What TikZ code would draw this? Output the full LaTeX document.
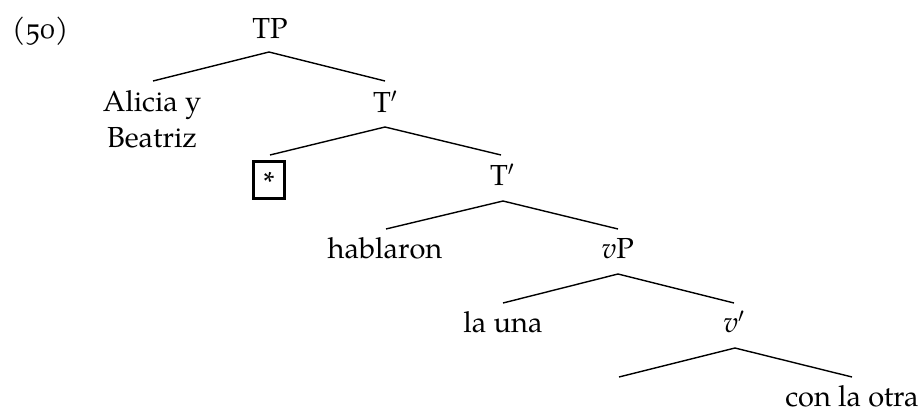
\documentclass[tikz,border=0pt]{standalone}
\usepackage{fontspec}
\setmainfont{TeX Gyre Pagella}[Numbers=OldStyle]
\tikzset{
  lbl/.style={anchor=base, inner sep=0pt, font=\fontsize{29}{35}\selectfont},
  br/.style={line width=1.4pt},
  starbox/.style={draw, line width=2.6pt, minimum width=31pt, minimum height=37pt, inner sep=0pt, font=\fontsize{29}{35}\selectfont}
}
\begin{document}
\begin{tikzpicture}[x=1pt,y=-1pt]
\useasboundingbox (0,0) rectangle (919,407);
\node[lbl, anchor=base west] (ex) at (12,38) {(50)};
\node[lbl] (tp) at (270,38) {TP};
\node[lbl] (al) at (152,111) {Alicia y};
\node[lbl] (be) at (152,147) {Beatriz};
\node[lbl] (t1) at (385,112) {T$'$};
\node[starbox] (st) at (269,180) {};
\node[inner sep=0pt, font=\fontsize{29}{35}\selectfont] (ast) at (269,182) {*};
\node[lbl] (t2) at (502,185) {T$'$};
\node[lbl] (hab) at (385,258) {hablaron};
\node[lbl] (vp) at (618,258) {\textit{v}P};
\node[lbl] (una) at (503,332) {la una};
\node[lbl] (vb) at (734,332) {\textit{v}$'$};
\node[lbl] (otra) at (852,406) {con la otra};
\coordinate (a1) at (269,52);
\coordinate (a2) at (385,127);
\coordinate (a3) at (503,201);
\coordinate (a4) at (618,274);
\coordinate (a5) at (735,348);
\coordinate (l1) at (153,81);  \coordinate (r1) at (385,81);
\coordinate (l2) at (270,155); \coordinate (r2) at (501,155);
\coordinate (l3) at (386,229); \coordinate (r3) at (618,229);
\coordinate (l4) at (503,303); \coordinate (r4) at (734,303);
\coordinate (l5) at (619,377); \coordinate (r5) at (852,377);
\draw[br] (l1) -- (a1) -- (r1);
\draw[br] (l2) -- (a2) -- (r2);
\draw[br] (l3) -- (a3) -- (r3);
\draw[br] (l4) -- (a4) -- (r4);
\draw[br] (l5) -- (a5) -- (r5);
\end{tikzpicture}
\end{document}
